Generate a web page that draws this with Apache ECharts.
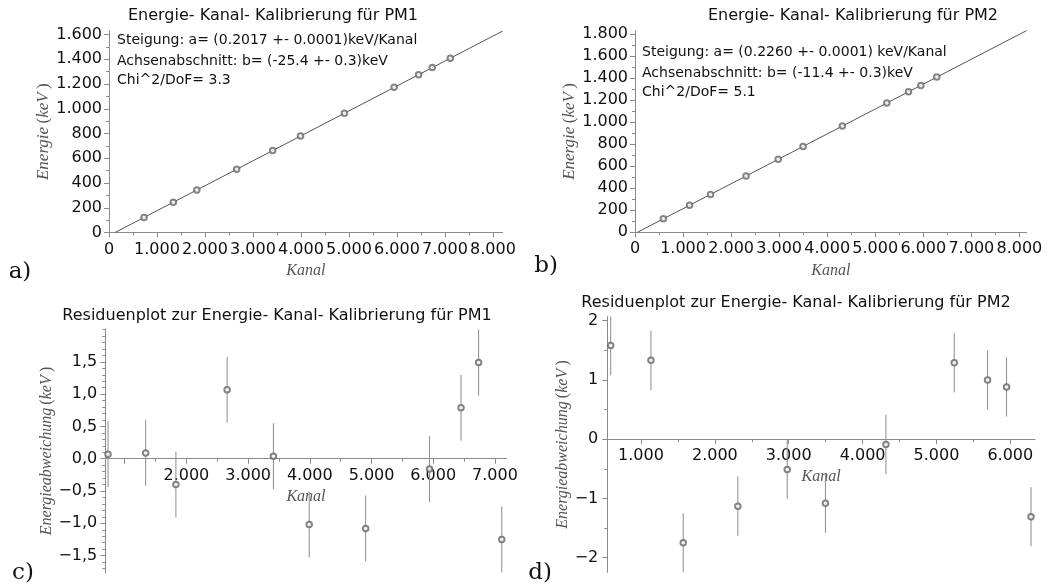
<!DOCTYPE html>
<html>
<head>
<meta charset="utf-8">
<script src="https://cdn.jsdelivr.net/npm/echarts@6/dist/echarts.min.js"></script>
<style>
html,body{margin:0;padding:0;background:#fff;}
#c{width:1048px;height:587px;}
</style>
</head>
<body>
<div id="c"></div>
<script>
// ---- data ----
const kanalPM1   = [730, 1340, 1830, 2660, 3410, 3990, 4905, 5940, 6450, 6735, 7110];
const energiePM1 = [122, 245, 344, 511, 662, 779, 964, 1173, 1275, 1333, 1408];
const kanalPM2   = [590, 1135, 1572, 2311, 2980, 3497, 4316, 5241, 5692, 5949, 6280];
const energiePM2 = [122, 245, 344, 511, 662, 779, 964, 1173, 1275, 1333, 1408];
const fitPM1X = [126, 8200];
const fitPM1Y = [0, 1628];
const fitPM2X = [50, 8150];
const fitPM2Y = [0, 1830];
const residPM1 = [0.07, 0.09, -0.40, 1.07, 0.04, -1.02, -1.08, -0.16, 0.79, 1.49, -1.25];
const errPM1   = [0.51, 0.51, 0.51, 0.51, 0.51, 0.51, 0.51, 0.51, 0.51, 0.51, 0.51];
const residPM2 = [1.58, 1.33, -1.75, -1.13, -0.51, -1.08, -0.09, 1.29, 1.00, 0.88, -1.31];
const errPM2   = [0.50, 0.50, 0.50, 0.50, 0.50, 0.50, 0.50, 0.50, 0.50, 0.50, 0.50];

// axis ranges
const rangeKanalA = [0, 8200],   rangeEnergieA = [0, 1630];
const rangeKanalB = [0, 8150],   rangeEnergieB = [0, 1830];
const rangeKanalC = [686, 7190], rangeResC = [-1.77, 2.01];
const rangeKanalD = [544, 6334], rangeResD = [-2.25, 2.07];

// tick values
const ticksKanalAB   = [0, 1000, 2000, 3000, 4000, 5000, 6000, 7000, 8000];
const minorKanalAB   = [500, 1500, 2500, 3500, 4500, 5500, 6500, 7500];
const ticksEnergieA  = [0, 200, 400, 600, 800, 1000, 1200, 1400, 1600];
const minorEnergieA  = [100, 300, 500, 700, 900, 1100, 1300, 1500];
const ticksEnergieB  = [0, 200, 400, 600, 800, 1000, 1200, 1400, 1600, 1800];
const minorEnergieB  = [100, 300, 500, 700, 900, 1100, 1300, 1500, 1700];
const ticksKanalC    = [1000, 2000, 3000, 4000, 5000, 6000, 7000];
const labelsKanalC   = [2000, 3000, 4000, 5000, 6000, 7000];
const minorKanalC    = [1500, 2500, 3500, 4500, 5500, 6500];
const ticksResC      = [-1.5, -1, -0.5, 0, 0.5, 1, 1.5];
const minorResC      = [-1.7, -1.6, -1.4, -1.3, -1.2, -1.1, -0.9, -0.8, -0.7, -0.6, -0.4, -0.3, -0.2, -0.1,
                        0.1, 0.2, 0.3, 0.4, 0.6, 0.7, 0.8, 0.9, 1.1, 1.2, 1.3, 1.4, 1.6, 1.7, 1.8, 1.9, 2.0];
const ticksKanalD    = [1000, 2000, 3000, 4000, 5000, 6000];
const minorKanalD    = [1500, 2500, 3500, 4500, 5500];
const ticksResD      = [-2, -1, 0, 1, 2];
const minorResD      = [-1.5, -0.5, 0.5, 1.5];

// ---- helpers ----
const AX = '#8a8a8a';
const TXT = '#111';
const GREY = '#666';
const fmtThousand = v => String(Math.round(v)).replace(/\B(?=(\d{3})+(?!\d))/g, '.');
const fmtComma = v => (v < 0 ? '\u2212' : '') + Math.abs(v).toFixed(1).replace('.', ',');
const fmtInt = v => (v < 0 ? '\u2212' : '') + Math.abs(Math.round(v));

const labelStyle = {fontFamily: 'DejaVu Sans', fontSize: 16, color: TXT};
function nameRich(size) {
  return {
    i: {fontFamily: 'Liberation Serif', fontStyle: 'italic', fontSize: size, color: '#555'},
    n: {fontFamily: 'Liberation Serif', fontSize: size, color: '#555'}
  };
}

const grids = [
  {left: 109, top: 30.8, width: 393.6, height: 201.7, outerBoundsMode: 'none'},
  {left: 635, top: 30.6, width: 391.6, height: 201.7, outerBoundsMode: 'none'},
  {left: 105.3, top: 329, width: 401.4, height: 244, outerBoundsMode: 'none'},
  {left: 607.3, top: 316.5, width: 427.7, height: 256, outerBoundsMode: 'none'}
];
// shift of a bottom x axis up to the y = 0 line of its grid
function zeroShift(gridIdx, yRange) {
  return -(0 - yRange[0]) / (yRange[1] - yRange[0]) * grids[gridIdx].height;
}

function majorAxis(dim, grid, range, ticks, labels, fmt, margin, extra, offset) {
  return Object.assign({
    type: 'value', gridIndex: grid, min: range[0], max: range[1],
    position: dim === 'x' ? 'bottom' : 'left',
    offset: offset || 0,
    axisLine: {show: true, onZero: false, lineStyle: {color: AX, width: 1}},
    axisTick: {show: true, length: 5, lineStyle: {color: AX}, customValues: ticks},
    axisLabel: Object.assign({show: true, margin: margin, formatter: fmt, customValues: labels}, labelStyle),
    splitLine: {show: false},
    minorTick: {show: false}
  }, extra || {});
}
function minorAxis(dim, grid, range, ticks, offset) {
  return {
    type: 'value', gridIndex: grid, min: range[0], max: range[1],
    position: dim === 'x' ? 'bottom' : 'left',
    offset: offset || 0,
    axisLine: {show: false, onZero: false},
    axisTick: {show: true, length: 3, lineStyle: {color: AX}, customValues: ticks},
    axisLabel: {show: false},
    splitLine: {show: false}
  };
}
function xName(gap) {
  return {name: '{i|Kanal}', nameLocation: 'middle', nameGap: gap, nameTextStyle: {rich: nameRich(16)}};
}
function yName(txt, gap, size) {
  return {name: '{i|' + txt + '}{n|\u2009(}{i|keV}{n|\u2009)}', nameLocation: 'middle', nameGap: gap, nameRotate: 90,
          nameTextStyle: {rich: nameRich(size)}};
}
function pairs(xs, ys) { return xs.map((x, i) => [x, ys[i]]); }
function triples(xs, ys, es) { return xs.map((x, i) => [x, ys[i], es[i]]); }

const errBar = function (params, api) {
  const x = api.value(0), y = api.value(1), e = api.value(2);
  const p1 = api.coord([x, y - e]);
  const p2 = api.coord([x, y + e]);
  return {type: 'line', shape: {x1: p1[0], y1: p1[1], x2: p2[0], y2: p2[1]},
          style: {stroke: '#8c8c8c', lineWidth: 1}};
};

const shiftC = zeroShift(2, rangeResC);
const shiftD = zeroShift(3, rangeResD);

const xAxes = [
  majorAxis('x', 0, rangeKanalA, ticksKanalAB, ticksKanalAB, fmtThousand, 9, xName(30)),
  minorAxis('x', 0, rangeKanalA, minorKanalAB),
  majorAxis('x', 1, rangeKanalB, ticksKanalAB, ticksKanalAB, fmtThousand, 9, xName(30)),
  minorAxis('x', 1, rangeKanalB, minorKanalAB),
  majorAxis('x', 2, rangeKanalC, ticksKanalC, labelsKanalC, fmtThousand, 9, xName(30), shiftC),
  minorAxis('x', 2, rangeKanalC, minorKanalC, shiftC),
  majorAxis('x', 3, rangeKanalD, ticksKanalD, ticksKanalD, fmtThousand, 9, xName(30), shiftD),
  minorAxis('x', 3, rangeKanalD, minorKanalD, shiftD)
];
const yAxes = [
  majorAxis('y', 0, rangeEnergieA, ticksEnergieA, ticksEnergieA, fmtThousand, 7, yName('Energie', 57, 17)),
  minorAxis('y', 0, rangeEnergieA, minorEnergieA),
  majorAxis('y', 1, rangeEnergieB, ticksEnergieB, ticksEnergieB, fmtThousand, 7, yName('Energie', 56, 17)),
  minorAxis('y', 1, rangeEnergieB, minorEnergieB),
  majorAxis('y', 2, rangeResC, ticksResC, ticksResC, fmtComma, 8, yName('Energieabweichung', 49, 16)),
  minorAxis('y', 2, rangeResC, minorResC),
  majorAxis('y', 3, rangeResD, ticksResD, ticksResD, fmtInt, 9, yName('Energieabweichung', 34, 16)),
  minorAxis('y', 3, rangeResD, minorResD)
];

const pointStyle = {type: 'scatter', symbol: 'emptyCircle', symbolSize: 5.5,
                    itemStyle: {color: GREY, borderColor: GREY, borderWidth: 1}, z: 5, silent: true};

const series = [
  {type: 'line', xAxisIndex: 0, yAxisIndex: 0, data: pairs(fitPM1X, fitPM1Y), showSymbol: false,
   lineStyle: {color: '#555', width: 1}, z: 3, silent: true, animation: false},
  Object.assign({xAxisIndex: 0, yAxisIndex: 0, data: pairs(kanalPM1, energiePM1)}, pointStyle),
  {type: 'line', xAxisIndex: 2, yAxisIndex: 2, data: pairs(fitPM2X, fitPM2Y), showSymbol: false,
   lineStyle: {color: '#555', width: 1}, z: 3, silent: true, animation: false},
  Object.assign({xAxisIndex: 2, yAxisIndex: 2, data: pairs(kanalPM2, energiePM2)}, pointStyle),
  {type: 'custom', xAxisIndex: 4, yAxisIndex: 4, renderItem: errBar, clip: true,
   encode: {x: 0, y: 1}, data: triples(kanalPM1, residPM1, errPM1), z: 2, silent: true},
  Object.assign({xAxisIndex: 4, yAxisIndex: 4, data: pairs(kanalPM1, residPM1)}, pointStyle),
  {type: 'custom', xAxisIndex: 6, yAxisIndex: 6, renderItem: errBar, clip: true,
   encode: {x: 0, y: 1}, data: triples(kanalPM2, residPM2, errPM2), z: 2, silent: true},
  Object.assign({xAxisIndex: 6, yAxisIndex: 6, data: pairs(kanalPM2, residPM2)}, pointStyle)
];

function txt(x, y, text, font, align) {
  return {type: 'text', x: x, y: y, silent: true,
          style: {text: text, font: font, fill: TXT, align: align || 'left', verticalAlign: 'middle'}};
}
const F16 = '16px "DejaVu Sans"';
const F14 = '14px "DejaVu Sans"';
const FL = '23px "DejaVu Serif"';
const graphics = [
  txt(273, 16, 'Energie- Kanal- Kalibrierung für PM1', F16, 'center'),
  txt(853, 16, 'Energie- Kanal- Kalibrierung für PM2', F16, 'center'),
  txt(277, 316, 'Residuenplot zur Energie- Kanal- Kalibrierung für PM1', F16, 'center'),
  txt(796, 303, 'Residuenplot zur Energie- Kanal- Kalibrierung für PM2', F16, 'center'),
  txt(117, 40, 'Steigung: a= (0.2017 +- 0.0001)keV/Kanal', F14),
  txt(117, 61, 'Achsenabschnitt: b= (-25.4 +- 0.3)keV', F14),
  txt(117, 80, 'Chi^2/DoF= 3.3', F14),
  txt(642, 52, 'Steigung: a= (0.2260 +- 0.0001) keV/Kanal', F14),
  txt(642, 73, 'Achsenabschnitt: b= (-11.4 +- 0.3)keV', F14),
  txt(642, 92, 'Chi^2/DoF= 5.1', F14),
  txt(20, 272, 'a)', FL, 'center'),
  txt(546, 266, 'b)', FL, 'center'),
  txt(23, 573, 'c)', FL, 'center'),
  txt(540, 573, 'd)', FL, 'center')
];

const chart = echarts.init(document.getElementById('c'), null, {renderer: 'canvas'});
chart.setOption({
  animation: false,
  backgroundColor: '#fff',
  grid: grids,
  xAxis: xAxes,
  yAxis: yAxes,
  series: series,
  graphic: graphics
});
</script>
</body>
</html>
